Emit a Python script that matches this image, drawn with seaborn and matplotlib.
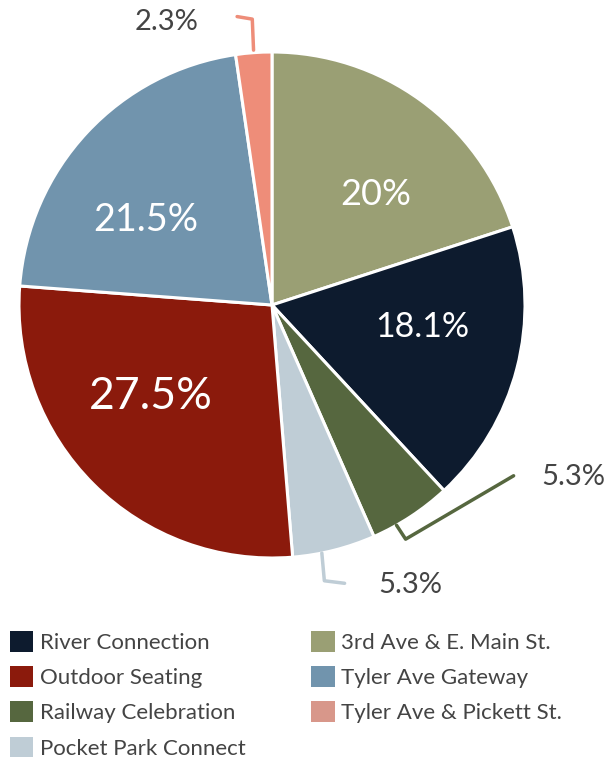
import numpy as np
import matplotlib
matplotlib.use("Agg")
import matplotlib.pyplot as plt
import seaborn as sns
from matplotlib.patches import Patch

sns.set_theme(style="white")
plt.rcParams['font.family'] = ['Lato', 'DejaVu Sans']

# ---- data (clockwise from 12 o'clock) ----
categories = ["3rd Ave & E. Main St.", "River Connection", "Railway Celebration",
              "Pocket Park Connect", "Outdoor Seating", "Tyler Ave Gateway",
              "Tyler Ave & Pickett St."]
values = [20.0, 18.1, 5.3, 5.3, 27.5, 21.5, 2.3]
labels = ["20%", "18.1%", "5.3%", "5.3%", "27.5%", "21.5%", "2.3%"]
colors = ["#9A9F74", "#0D1B2E", "#56673F", "#BFCDD6", "#8B1A0C", "#7194AD", "#EE8D79"]
legend_order = ["River Connection", "Outdoor Seating", "Railway Celebration",
                "Pocket Park Connect", "3rd Ave & E. Main St.", "Tyler Ave Gateway",
                "Tyler Ave & Pickett St."]
legend_colors = {"3rd Ave & E. Main St.": "#9A9F74", "River Connection": "#0D1B2E",
                 "Railway Celebration": "#56673F", "Pocket Park Connect": "#BFCDD6",
                 "Outdoor Seating": "#8B1A0C", "Tyler Ave Gateway": "#7194AD",
                 "Tyler Ave & Pickett St.": "#D8978A"}
outside = {2: (1.19, -0.68), 3: (0.545, -1.105), 6: (-0.415, 1.12)}
# small angular nudges (in percent units) for inside labels, as in the original layout
label_shift = {0: 2.0, 1: -1.7, 4: 2.2, 5: -2.5}

W, H = 611, 763
fig = plt.figure(figsize=(W / 100, H / 100), dpi=100)
cx, cy, R = 272, 305, 253
ax = fig.add_axes([(cx - R) / W, (H - cy - R) / H, 2 * R / W, 2 * R / H])

wedges, _ = ax.pie(values, colors=colors, startangle=90, counterclock=False,
                   radius=1.0, wedgeprops=dict(edgecolor="white", linewidth=2.2))
ax.set_xlim(-1, 1)
ax.set_ylim(-1, 1)
ax.set_aspect("equal")
ax.axis("off")

cum = np.cumsum([0] + values[:-1])
for i, (v, lab) in enumerate(zip(values, labels)):
    if i in outside:
        tx, ty = outside[i]
        if i == 6:
            mid = np.deg2rad(90 - (cum[i] + v / 2) * 3.6)
            d = np.array([np.cos(mid), np.sin(mid)])
            p0 = d * 1.01
            p1 = np.array([p0[0] - 0.005, 1.13])
            p2 = np.array([p1[0] - 0.06, 1.14])
        elif i == 2:
            a = np.deg2rad(90 - (cum[i] + v * 0.7) * 3.6)
            p0 = np.array([np.cos(a), np.sin(a)]) * 1.0
            p1 = p0 + np.array([0.036, -0.055])
            p2 = np.array([tx - 0.235, ty + 0.005])
        else:
            a = np.deg2rad(90 - (cum[i] + v * 0.65) * 3.6)
            p0 = np.array([np.cos(a), np.sin(a)]) * 1.0
            p1 = np.array([p0[0] + 0.01, -1.09])
            p2 = np.array([p1[0] + 0.08, -1.10])
        ax.plot([p0[0], p1[0], p2[0]], [p0[1], p1[1], p2[1]], color=colors[i],
                lw=2.5, solid_joinstyle="round", solid_capstyle="round", clip_on=False)
        ax.text(tx, ty, lab, ha="center", va="center", fontsize=21,
                color="#444444", fontweight="normal")
    else:
        mid = np.deg2rad(90 - (cum[i] + v / 2 + label_shift.get(i, 0)) * 3.6)
        r = 0.6
        ax.text(np.cos(mid) * r, np.sin(mid) * r, lab, ha="center", va="center",
                fontsize=10 + 0.8 * v, color="white", fontweight="normal")

handles = [Patch(facecolor=legend_colors[c], edgecolor="none") for c in legend_order]
fig.legend(handles, legend_order, loc="upper left", bbox_to_anchor=(10 / W, 1 - 631 / H),
           ncol=2, frameon=False, fontsize=16, handlelength=1.05, handleheight=1.05,
           handletextpad=0.3, labelspacing=0.6, columnspacing=2.95, borderpad=0,
           borderaxespad=0, labelcolor="#444444")

fig.savefig("out.png", dpi=100)
